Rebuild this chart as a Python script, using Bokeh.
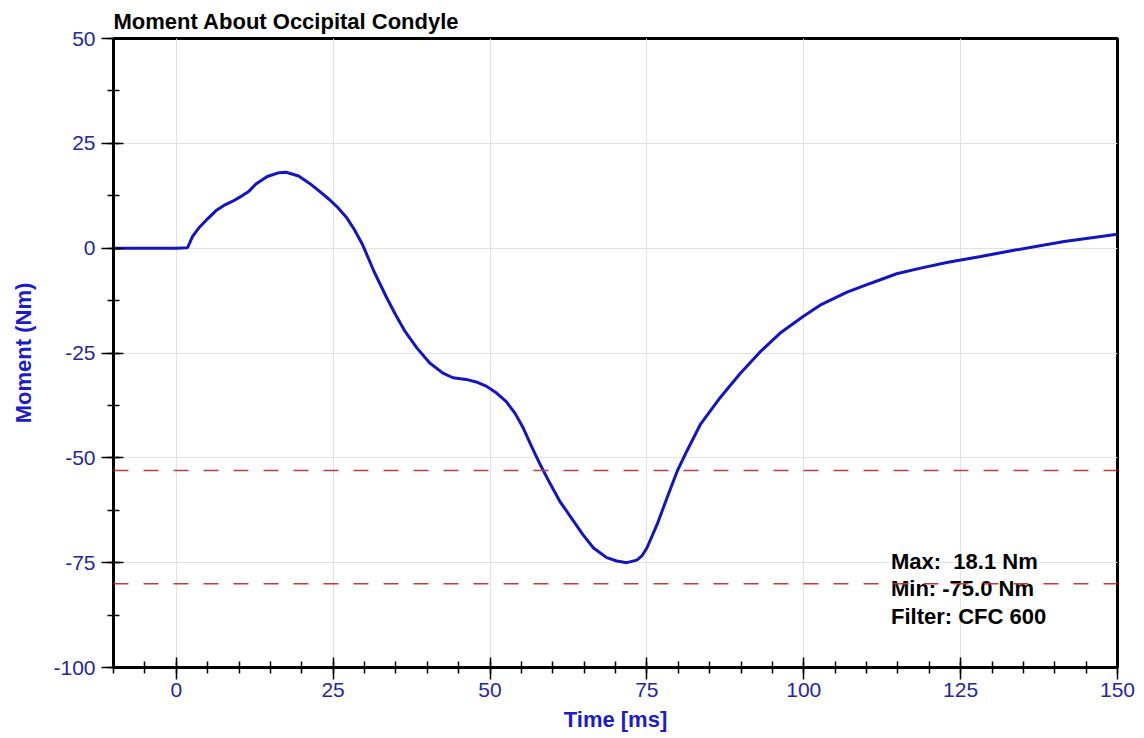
from bokeh.plotting import figure
from bokeh.models import FixedTicker, Span, Range1d, CustomJSTickFormatter
from bokeh.embed import file_html
from bokeh.resources import INLINE
from bokeh.core.properties import value

# ---- data ----
time_ms = [-10, 0, 1.8, 2.6, 3.7, 5.0, 6.3, 7.6, 9.0, 10.6, 11.6, 12.7, 14.5, 16.4,
           17.5, 19.5, 21.2, 22.8, 24.4, 25.8, 27.1, 28.4, 29.7, 31.5, 33.5, 35.0,
           36.4, 38.4, 40.4, 42.5, 44.1, 46.2, 47.8, 49.4, 51.0, 52.6, 54.0, 55.3,
           56.6, 58.0, 59.6, 61.1, 62.9, 64.8, 66.5, 68.6, 70.2, 71.8, 73.4, 74.2,
           75.0, 76.6, 78.2, 79.8, 81.4, 83.5, 86.7, 89.8, 93.0, 96.2, 99.9, 102.6,
           106.9, 110.8, 114.8, 118.8, 122.8, 128.2, 133.5, 141.5, 150]
moment_nm = [0, 0, 0.1, 2.8, 5.0, 7.0, 8.9, 10.2, 11.2, 12.6, 13.6, 15.3, 17.1, 18.0,
             18.1, 17.2, 15.5, 13.6, 11.6, 9.6, 7.4, 4.4, 0.8, -5.5, -11.7, -16.0,
             -19.7, -23.9, -27.4, -29.8, -30.9, -31.3, -31.9, -32.9, -34.5, -36.6, -39.4, -42.9,
             -47.2, -51.6, -56.2, -60.3, -64.2, -68.3, -71.5, -73.8, -74.6, -75.0, -74.4, -73.4,
             -71.5, -66.0, -59.6, -53.3, -48.3, -42.1, -35.6, -30.0, -24.8, -20.3, -16.3, -13.6,
             -10.5, -8.3, -6.1, -4.7, -3.4, -2.0, -0.5, 1.6, 3.3]
limit_lines = [-53, -80]
x_major_ticks = [0, 25, 50, 75, 100, 125, 150]
y_major_ticks = [-100, -75, -50, -25, 0, 25, 50]
info_lines = ["Max:\u00a0 18.1 Nm", "Min: -75.0 Nm", "Filter: CFC 600"]

FONT = "Liberation Sans"
TICK_COLOR = "#27279a"
LABEL_COLOR = "#1c1cc8"
CURVE_COLOR = "#1414c0"

p = figure(frame_width=1004, frame_height=629, output_backend="svg", toolbar_location=None,
           x_range=Range1d(-10, 150), y_range=Range1d(-100, 50),
           min_border_left=113, min_border_right=21, min_border_top=38, min_border_bottom=0)

p.title.text = "Moment About Occipital Condyle"
p.title.text_font = FONT
p.title.text_font_size = "22px"
p.title.text_font_style = "bold"
p.title.text_color = "black"
p.title.align = "left"
p.title.offset = 0
p.title.standoff = 10

p.outline_line_color = "black"
p.outline_line_width = 3
p.outline_line_alpha = 1

p.xaxis.ticker = FixedTicker(ticks=x_major_ticks, minor_ticks=list(range(-10, 151, 5)))
yminor = [-100 + 12.5 * i for i in range(13)]
p.yaxis.ticker = FixedTicker(ticks=y_major_ticks, minor_ticks=yminor)

for ax in (p.xaxis[0], p.yaxis[0]):
    ax.formatter = CustomJSTickFormatter(code="return String(tick);")
    ax.axis_line_width = 3
    ax.axis_line_color = "black"
    ax.major_tick_line_color = "black"
    ax.major_tick_line_width = 1.5
    ax.minor_tick_line_color = "black"
    ax.minor_tick_line_width = 1.5
    ax.major_tick_in = 10
    ax.major_tick_out = 12
    ax.minor_tick_in = 6
    ax.minor_tick_out = 6
    ax.major_label_text_font = FONT
    ax.major_label_text_font_size = "21px"
    ax.major_label_text_color = TICK_COLOR
    ax.axis_label_text_font = FONT
    ax.axis_label_text_font_size = "22px"
    ax.axis_label_text_font_style = "bold"
    ax.axis_label_text_color = LABEL_COLOR

p.xaxis.axis_label = "Time [ms]"
p.yaxis.axis_label = "Moment (Nm)"
p.xaxis.major_label_standoff = 3
p.yaxis.major_label_standoff = 6
p.xaxis.axis_label_standoff = 7
p.yaxis.axis_label_standoff = 14

p.xgrid.ticker = FixedTicker(ticks=x_major_ticks)
p.ygrid.ticker = FixedTicker(ticks=y_major_ticks)
p.grid.grid_line_color = "#e2e2e2"
p.grid.grid_line_width = 1

for yv in limit_lines:
    p.add_layout(Span(location=yv, dimension="width", line_color="#b8403a",
                      line_width=1.5, line_dash="15 15"))

p.line(time_ms, moment_nm, line_color=CURVE_COLOR, line_width=3)

info_y = [-74.8, -81.1, -87.8]
p.text(x=[113.9] * 3, y=info_y, text=info_lines, text_font=value(FONT),
       text_font_size="22px", text_font_style="bold", text_color="black",
       text_baseline="middle", text_align="left")

open("out.html", "w").write(file_html(p, INLINE))
